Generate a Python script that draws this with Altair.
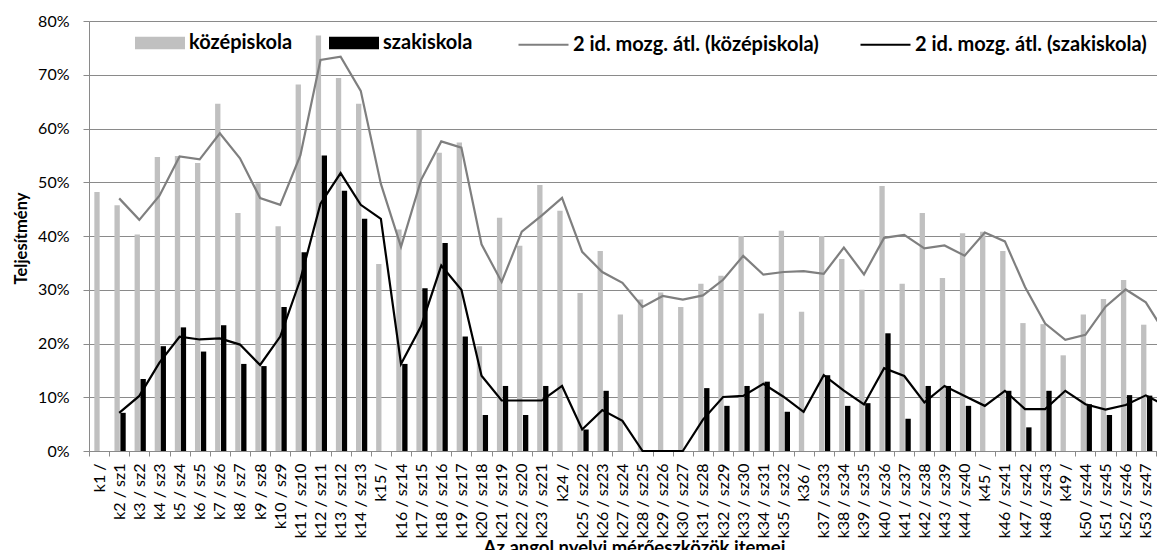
import altair as alt
import pandas as pd

categories = [
    "k1 /", "k2 / sz1", "k3 / sz2", "k4 / sz3", "k5 / sz4", "k6 / sz5", "k7 / sz6", "k8 / sz7", "k9 / sz8", "k10 / sz9",
    "k11 / sz10", "k12 / sz11", "k13 / sz12", "k14 / sz13", "k15 /", "k16 / sz14", "k17 / sz15", "k18 / sz16", "k19 / sz17", "k20 / sz18",
    "k21 / sz19", "k22 / sz20", "k23 / sz21", "k24 /", "k25 / sz22", "k26 / sz23", "k27 / sz24", "k28 / sz25", "k29 / sz26", "k30 / sz27",
    "k31 / sz28", "k32 / sz29", "k33 / sz30", "k34 / sz31", "k35 / sz32", "k36 /", "k37 / sz33", "k38 / sz34", "k39 / sz35", "k40 / sz36",
    "k41 / sz37", "k42 / sz38", "k43 / sz39", "k44 / sz40", "k45 /", "k46 / sz41", "k47 / sz42", "k48 / sz43", "k49 /", "k50 / sz44",
    "k51 / sz45", "k52 / sz46", "k53 / sz47", "k54 / sz48",
]

kozep = [
    48.2, 45.7, 40.3, 54.7, 54.9, 53.6, 64.6, 44.3, 49.8, 41.8,
    68.2, 77.3, 69.4, 64.6, 34.8, 41.2, 59.7, 55.5, 57.4, 19.5,
    43.4, 38.2, 49.5, 44.7, 29.4, 37.2, 25.4, 28.2, 29.5, 26.8,
    31.1, 32.6, 40.0, 25.6, 41.0, 25.9, 40.0, 35.7, 30.0, 49.3,
    31.1, 44.3, 32.2, 40.5, 40.8, 37.2, 23.8, 23.6, 17.8, 25.4,
    28.3, 31.8, 23.5, 19.9,
]

szak = [
    None, 7.1, 13.4, 19.5, 23.0, 18.5, 23.4, 16.2, 15.8, 26.8,
    37.0, 55.0, 48.4, 43.2, None, 16.2, 30.3, 38.7, 21.3, 6.7,
    12.1, 6.7, 12.1, None, 4.0, 11.2, 0.0, 0.0, 0.0, 0.0,
    11.7, 8.4, 12.1, 12.9, 7.3, None, 14.1, 8.4, 8.9, 21.9,
    6.0, 12.1, 12.1, 8.4, None, 11.2, 4.4, 11.2, None, 8.7,
    6.7, 10.4, 10.3, 6.5,
]

ma_kozep = [
    None, 47.0, 43.0, 47.5, 54.8, 54.25, 59.1, 54.45, 47.05, 45.8,
    55.0, 72.75, 73.35, 67.0, 49.7, 38.0, 50.45, 57.6, 56.45, 38.45,
    31.45, 40.8, 43.85, 47.1, 37.05, 33.3, 31.3, 26.8, 28.85, 28.15,
    28.95, 31.85, 36.3, 32.8, 33.3, 33.45, 32.95, 37.85, 32.85, 39.65,
    40.2, 37.7, 38.25, 36.35, 40.65, 39.0, 30.5, 23.7, 20.7, 21.6,
    26.85, 30.05, 27.65, 21.7,
]

ma_szak = [
    None, 7.1, 10.25, 16.45, 21.25, 20.75, 20.95, 19.8, 16.0, 21.3,
    31.9, 46.0, 51.7, 45.8, 43.2, 16.2, 23.25, 34.5, 30.0, 14.0,
    9.4, 9.4, 9.4, 12.1, 4.0, 7.6, 5.6, 0.0, 0.0, 0.0,
    5.85, 10.05, 10.25, 12.5, 10.1, 7.3, 14.1, 11.25, 8.65, 15.4,
    13.95, 9.05, 12.1, 10.25, 8.4, 11.2, 7.8, 7.8, 11.2, 8.7,
    7.7, 8.55, 10.35, 8.4,
]

bar_series = ["középiskola", "szakiskola"]
line_series = ["2 id. mozg. átl. (középiskola)", "2 id. mozg. átl. (szakiskola)"]
y_ticks = [0, 10, 20, 30, 40, 50, 60, 70, 80]

bar_rows = []
for c, a, b in zip(categories, kozep, szak):
    if a is not None:
        bar_rows.append({"cat": c, "series": bar_series[0], "value": a})
    if b is not None:
        bar_rows.append({"cat": c, "series": bar_series[1], "value": b})
bars_df = pd.DataFrame(bar_rows)

line_rows = []
for c, a, b in zip(categories, ma_kozep, ma_szak):
    if a is not None:
        line_rows.append({"cat": c, "series": line_series[0], "value": a})
    if b is not None:
        line_rows.append({"cat": c, "series": line_series[1], "value": b})
lines_df = pd.DataFrame(line_rows)

FONT = "Lato"
GRID = "#8a8a8a"

x_enc = alt.X(
    "cat:N",
    sort=categories,
    scale=alt.Scale(domain=categories, range=[0, 1087], paddingInner=0, paddingOuter=0),
    axis=alt.Axis(
        title="Az angol nyelvi mérőeszközök itemei",
        labelAngle=-90,
        labelFontSize=16,
        labelOverlap=False,
        labelPadding=7,
        tickBand="extent",
        tickSize=5,
        tickColor=GRID,
        domainColor=GRID,
        grid=False,
        titleFontSize=18.5,
        titleFontWeight="bold",
        titleY=87,
        titleX=545,
    ),
)

y_enc = alt.Y(
    "value:Q",
    scale=alt.Scale(domain=[0, 80], nice=False),
    axis=alt.Axis(
        values=y_ticks,
        labelExpr="datum.value + '%'",
        title="Teljesítmény",
        titleFontSize=16.5,
        titleFontWeight="bold",
        titleX=-60,
        titleY=217,
        labelFontSize=16,
        labelPadding=14,
        tickSize=6,
        tickColor=GRID,
        domainColor=GRID,
        grid=True,
        gridColor=GRID,
    ),
)

bars = alt.Chart(bars_df).mark_bar().encode(
    x=x_enc,
    xOffset=alt.XOffset(
        "series:N",
        sort=bar_series,
        scale=alt.Scale(domain=bar_series, paddingInner=0.1, paddingOuter=0.75, align=0.6),
    ),
    y=y_enc,
    color=alt.Color(
        "series:N",
        scale=alt.Scale(domain=bar_series, range=["#c0c0c0", "#000000"]),
        legend=alt.Legend(
            title=None,
            orient="none",
            legendX=46,
            legendY=-3,
            direction="horizontal",
            symbolType="M-1,-0.25H1V0.25H-1Z",
            symbolSize=2500,
            symbolStrokeWidth=0,
            labelFontSize=20,
            labelFontWeight="bold",
            labelOffset=4,
            columnPadding=36,
            labelLimit=400,
        ),
    ),
)

lines = alt.Chart(lines_df).mark_line(strokeWidth=2.2).encode(
    x=alt.X("cat:N", sort=categories),
    y=alt.Y("value:Q"),
    stroke=alt.Stroke(
        "series:N",
        scale=alt.Scale(domain=line_series, range=["#7f7f7f", "#000000"]),
        legend=alt.Legend(
            title=None,
            orient="none",
            legendX=428,
            legendY=-3,
            direction="horizontal",
            symbolType="stroke",
            symbolSize=2500,
            symbolStrokeWidth=2.2,
            labelFontSize=20,
            labelFontWeight="bold",
            labelOffset=3,
            columnPadding=37,
            labelLimit=400,
        ),
    ),
)

chart = (
    alt.layer(bars, lines)
    .properties(
        width=1068,
        height=430,
        padding={"left": 81, "top": 13, "right": 0, "bottom": 111},
        autosize=alt.AutoSizeParams(type="none"),
        background="white",
    )
    .configure_view(stroke=None)
    .configure_axis(labelFont=FONT, titleFont=FONT, labelColor="#000000", titleColor="#000000")
    .configure_legend(labelFont=FONT, labelColor="#000000")
)

chart.save("out.html", embed_options={"renderer": "svg", "actions": False})
